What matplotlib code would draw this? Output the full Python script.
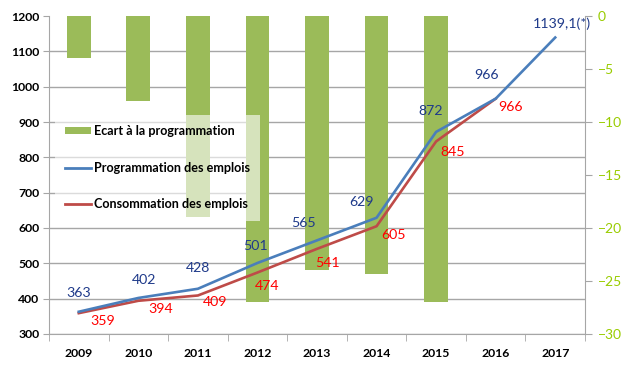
import matplotlib
matplotlib.use("Agg")
import matplotlib.pyplot as plt
import numpy as np
from matplotlib.patches import Patch
from matplotlib.lines import Line2D

years = ['2009', '2010', '2011', '2012', '2013', '2014', '2015', '2016', '2017']
programmation = [363, 402, 428, 501, 565, 629, 872, 966, 1139.1]
consommation = [359, 394, 409, 474, 541, 605, 845, 966]
ecart = [-4, -8, -19, -27, -24, -24.3, -27, np.nan, np.nan]
prog_labels = ['363', '402', '428', '501', '565', '629', '872', '966', '1139,1(*)']
cons_labels = ['359', '394', '409', '474', '541', '605', '845', '966']

# label offsets in pixels (dx, dy)
prog_off = [(0, 19), (6, 18), (0, 21), (-2, 17), (-14, 17), (-15, 16), (-5, 21), (-9, 24), (7, 14)]
cons_off = [(24, -8), (22, -8), (17, -7), (10, -13), (11, -14), (17, -9), (17, -11), (15, -8)]

plt.rcParams['font.family'] = ['Lato', 'DejaVu Sans']

W, H = 627, 371
fig = plt.figure(figsize=(W / 100, H / 100), dpi=100)
L, R, T, B = 49, 585, 16, 334
rect = [L / W, 1 - B / H, (R - L) / W, (B - T) / H]

ax = fig.add_axes(rect)          # grid + left ticks
ax2 = ax.twinx()                 # bars, right scale
ax3 = ax.twinx()                 # lines, left scale
ax.set_zorder(1)
ax2.set_zorder(2)
ax3.set_zorder(3)
ax2.patch.set_visible(False)
ax3.patch.set_visible(False)

x = np.arange(len(years))
xlim = (-0.5, len(years) - 0.5)

grid_c = '#a6a6a6'
# base axis
ax.set_xlim(*xlim)
ax.set_ylim(300, 1200)
ax.set_yticks(range(300, 1201, 100))
ax.yaxis.grid(True, color=grid_c, linewidth=1.0)
ax.set_axisbelow(True)
for yt in ax.get_ygridlines()[-1:]:
    yt.set_visible(False)
ax.tick_params(axis='y', length=4, color=grid_c, labelsize=8.8, pad=3)
for lab in ax.get_yticklabels():
    lab.set_fontweight('bold')
ax.set_xticks(x)
ax.set_xticklabels(years, fontsize=8.8, fontweight='bold')
ax.set_xticks(np.arange(-0.5, len(years), 1.0), minor=True)
ax.tick_params(axis='x', which='major', length=0, pad=10)
ax.tick_params(axis='x', which='minor', length=5, color=grid_c)
for s in ['top', 'right']:
    ax.spines[s].set_visible(False)
ax.spines['left'].set_color(grid_c)
ax.spines['bottom'].set_color(grid_c)

# bars
bar_c = '#9bbb59'
ax2.bar(x, ecart, width=0.4, color=bar_c, zorder=2)
ax2.set_xlim(*xlim)
ax2.set_ylim(-30, 0)
ax2.set_yticks(range(-30, 1, 5))
ax2.tick_params(axis='y', length=5, color=grid_c, labelsize=10, labelcolor='#99cc00', pad=4)
for s in ['top', 'left', 'bottom']:
    ax2.spines[s].set_visible(False)
ax2.spines['right'].set_color(grid_c)

# lines
blue = '#4a7ebb'
red = '#be4b48'
ax3.plot(x[:len(programmation)], programmation, color=blue, linewidth=1.9, zorder=4)
ax3.plot(x[:len(consommation)], consommation, color=red, linewidth=1.9, zorder=3)
ax3.set_xlim(*xlim)
ax3.set_ylim(300, 1200)
ax3.set_yticks([])
for s in ax3.spines.values():
    s.set_visible(False)

for i, (v, lab) in enumerate(zip(programmation, prog_labels)):
    dx, dy = prog_off[i]
    ax3.annotate(lab, (x[i], v), xytext=(dx, dy), textcoords='offset pixels',
                 ha='center', va='center', fontsize=10.2, color='#1f3a8a')
for i, (v, lab) in enumerate(zip(consommation, cons_labels)):
    dx, dy = cons_off[i]
    ax3.annotate(lab, (x[i], v), xytext=(dx, dy), textcoords='offset pixels',
                 ha='center', va='center', fontsize=10.2, color='#ff0000')

handles = [Patch(facecolor=bar_c, edgecolor='none'),
           Line2D([], [], color=blue, linewidth=2),
           Line2D([], [], color=red, linewidth=2)]
labels = ['Ecart à la programmation', 'Programmation des emplois', 'Consommation des emplois']
leg = ax3.legend(handles, labels, loc='upper left',
                 bbox_to_anchor=((55 - L) / (R - L), (B - 115) / (B - T)),
                 frameon=True, framealpha=0.6, facecolor='white', edgecolor='none',
                 fancybox=False, prop={'size': 9.1, 'weight': 'bold'},
                 handlelength=2.05, handleheight=0.55, handletextpad=0.2,
                 labelspacing=1.95, borderpad=0.8, borderaxespad=0)
leg.get_frame().set_linewidth(0)

fig.savefig('out.png', dpi=100)
